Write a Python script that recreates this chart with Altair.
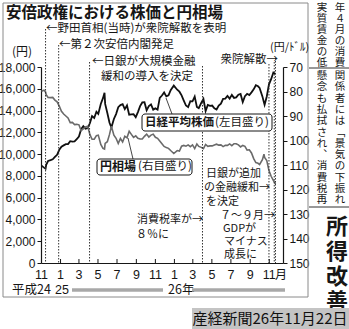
import altair as alt
import pandas as pd

# ---------------- data ----------------
dates = [
    "2012-11-01", "2012-11-09", "2012-11-14", "2012-11-16", "2012-11-22", "2012-11-30",
    "2012-12-07", "2012-12-14", "2012-12-21", "2012-12-28",
    "2013-01-04", "2013-01-11", "2013-01-18", "2013-01-25", "2013-02-01", "2013-02-08",
    "2013-02-15", "2013-02-22", "2013-03-01", "2013-03-08", "2013-03-15", "2013-03-22",
    "2013-03-29", "2013-04-05", "2013-04-12", "2013-04-19", "2013-04-26", "2013-05-02",
    "2013-05-10", "2013-05-17", "2013-05-22", "2013-05-24", "2013-05-31", "2013-06-07",
    "2013-06-13", "2013-06-21", "2013-06-28", "2013-07-05", "2013-07-12", "2013-07-19",
    "2013-07-26", "2013-08-02", "2013-08-09", "2013-08-16", "2013-08-23", "2013-08-30",
    "2013-09-06", "2013-09-13", "2013-09-20", "2013-09-27", "2013-10-04", "2013-10-11",
    "2013-10-18", "2013-10-25", "2013-11-01", "2013-11-08", "2013-11-15", "2013-11-22",
    "2013-11-29", "2013-12-06", "2013-12-13", "2013-12-20", "2013-12-30",
    "2014-01-10", "2014-01-17", "2014-01-24", "2014-01-31", "2014-02-07", "2014-02-14",
    "2014-02-21", "2014-02-28", "2014-03-07", "2014-03-14", "2014-03-20", "2014-03-28",
    "2014-04-04", "2014-04-11", "2014-04-18", "2014-04-25", "2014-05-02", "2014-05-09",
    "2014-05-16", "2014-05-23", "2014-05-30", "2014-06-06", "2014-06-13", "2014-06-20",
    "2014-06-27", "2014-07-04", "2014-07-11", "2014-07-18", "2014-07-25", "2014-08-01",
    "2014-08-08", "2014-08-15", "2014-08-22", "2014-08-29", "2014-09-05", "2014-09-12",
    "2014-09-19", "2014-09-26", "2014-10-01", "2014-10-10", "2014-10-15", "2014-10-17",
    "2014-10-24", "2014-10-31", "2014-11-07", "2014-11-14", "2014-11-21",
]
nikkei = [
    8946, 8757, 8665, 9024, 9366, 9446,
    9527, 9737, 9940, 10395,
    10688, 10801, 10913, 10926, 11191, 11153,
    11173, 11386, 11606, 12283, 12560, 12338,
    12397, 12833, 13485, 13316, 13884, 13694,
    14607, 15138, 15627, 14612, 13774, 12877,
    12445, 13230, 13677, 14309, 14506, 14589,
    14129, 14466, 13615, 13650, 13660, 13389,
    13860, 14404, 14742, 14760, 14024, 14404,
    14561, 14088, 14201, 14086, 15165, 15381,
    15661, 15299, 15403, 15870, 16291,
    15912, 15734, 15391, 14914, 14462, 14313,
    14865, 14841, 15274, 14327, 14224, 14696,
    15063, 13960, 14516, 14429, 14457, 14199,
    14097, 14462, 14632, 15077, 15097, 15349,
    15095, 15437, 15164, 15215, 15457, 15523,
    14778, 15318, 15539, 15424, 15668, 15948,
    16321, 16229, 16082, 15300, 14738, 14532,
    15291, 16413, 16880, 17490, 17357,
]
usdjpy = [
    79.9, 79.5, 80.2, 81.3, 82.4, 82.5,
    82.4, 83.5, 84.2, 86.0,
    88.1, 89.2, 90.0, 90.8, 92.7, 92.6,
    93.5, 93.4, 93.6, 96.0, 95.3, 94.5,
    94.2, 97.5, 99.5, 99.5, 98.0, 97.8,
    101.6, 103.2, 103.5, 101.2, 100.5, 97.5,
    94.2, 97.8, 99.1, 101.2, 99.2, 100.6,
    98.3, 98.9, 96.2, 97.5, 98.7, 98.1,
    99.1, 99.4, 99.4, 98.3, 97.4, 98.6,
    97.8, 97.4, 98.7, 99.1, 100.2, 101.3,
    102.4, 102.9, 103.2, 104.1, 105.3,
    104.1, 104.3, 102.3, 102.0, 102.3, 101.8,
    102.5, 101.8, 103.3, 101.4, 102.4, 102.8,
    103.3, 101.6, 102.4, 102.2, 102.2, 101.8,
    101.5, 101.9, 101.8, 102.5, 102.0, 102.0,
    101.4, 102.1, 101.3, 101.3, 101.8, 102.6,
    102.0, 102.4, 103.9, 103.8, 105.1, 107.4,
    109.0, 109.3, 109.8, 107.8, 105.6, 106.9,
    108.2, 112.3, 114.6, 116.3, 117.8,
]

left_ticks = [0, 2000, 4000, 6000, 8000, 10000, 12000, 14000, 16000, 18000]
right_ticks = [70, 80, 90, 100, 110, 120, 130, 140, 150]
month_tick_dates = ["2012-11-01", "2013-01-01", "2013-03-01", "2013-05-01", "2013-07-01",
                    "2013-09-01", "2013-11-01", "2014-01-01", "2014-03-01", "2014-05-01",
                    "2014-07-01", "2014-09-01", "2014-11-01"]
month_tick_labels = ["11", "1", "3", "5", "7", "9", "11", "1", "3", "5", "7", "9", "11"]
event_dates = ["2012-11-14", "2012-12-26", "2013-04-04", "2014-04-01",
               "2014-10-31", "2014-11-17", "2014-11-21"]

title_text = "安倍政権における株価と円相場"
caption_text = "産経新聞26年11月22日"
column_texts = ["年４月の消費", "実質賃金の低", "関係者には﹁景気の下振れ",
                "懸念も払拭され︑消費税再", "所得改善"]

# ---------------- layout ----------------
OX, OY = 41, 67          # plot origin in page pixels
W, H = 242, 196          # plot size
PAGE_W, PAGE_H = 349, 329
BASE = pd.Timestamp("2012-11-01")
JP = "Noto Sans CJK JP"
NUM = "Liberation Sans"
INK = "#161616"

def day(d):
    return (pd.Timestamp(d) - BASE).days

xscale = alt.Scale(domain=[-1.6, 774], nice=False, zero=False)

df = pd.DataFrame({"day": [day(d) for d in dates], "nikkei": nikkei, "usdjpy": usdjpy})
ticks_df = pd.DataFrame({"day": [day(d) for d in month_tick_dates], "label": month_tick_labels})


def txt(t, x, y, size=11.5, weight="normal", align="left", color=INK, font=JP,
        baseline="middle"):
    m = dict(align=align, baseline=baseline, fontSize=size, fontWeight=weight,
             font=font, color=color)
    return alt.Chart(alt.Data(values=[{"t": t}])).mark_text(**m).encode(
        text="t:N", x=alt.value(x - OX), y=alt.value(y - OY))


def vtxt(t, x, y0, pitch, size=11, weight="normal"):
    """vertical (tategaki) column: one glyph per mark"""
    return [txt(ch, x, y0 + i * pitch, size=size, weight=weight, align="center")
            for i, ch in enumerate(t)]


def seg(x1, y1, x2, y2, color=INK, width=1.0):
    return alt.Chart(alt.Data(values=[{}])).mark_rule(color=color, strokeWidth=width).encode(
        x=alt.value(x1 - OX), y=alt.value(y1 - OY),
        x2=alt.value(x2 - OX), y2=alt.value(y2 - OY))


def box(x1, y1, x2, y2, fill="white", stroke=INK, sw=1.0, radius=0, fill_opacity=1):
    return alt.Chart(alt.Data(values=[{}])).mark_rect(
        fill=fill, stroke=stroke, strokeWidth=sw, cornerRadius=radius,
        fillOpacity=fill_opacity).encode(
        x=alt.value(x1 - OX), y=alt.value(y1 - OY),
        x2=alt.value(x2 - OX), y2=alt.value(y2 - OY))


layers = []

# frame
layers.append(box(3, 3, 308, 297, fill="white", stroke="#8a8a8a", sw=1, fill_opacity=0))

# event dotted lines
event_tops = [29, 45, 62, 66, 64, 62, 58]
for d, top in zip(event_dates, event_tops):
    layers.append(
        alt.Chart(pd.DataFrame({"day": [day(d)]})).mark_rule(
            color="#333", strokeWidth=1, strokeDash=[1.5, 1.5]).encode(
            x=alt.X("day:Q", scale=xscale), y=alt.value(top - OY), y2=alt.value(H))
    )

# x ticks (pointing up into the plot) and labels
layers.append(
    alt.Chart(ticks_df).mark_rule(color=INK, strokeWidth=1).encode(
        x=alt.X("day:Q", scale=xscale), y=alt.value(H - 4), y2=alt.value(H))
)
layers.append(
    alt.Chart(ticks_df).mark_text(font=NUM, fontSize=12.5, color=INK, baseline="middle",
                                  align="center").encode(
        x=alt.X("day:Q", scale=xscale), y=alt.value(275 - OY), text="label:N")
)
layers.append(txt("月", 275, 275, size=12))

# lines
nik = alt.Chart(df).mark_line(color="#101010", strokeWidth=1.8).encode(
    x=alt.X("day:Q", scale=xscale,
            axis=alt.Axis(labels=False, ticks=False, grid=False, title=None,
                          domainColor=INK, domainWidth=1.2)),
    y=alt.Y("nikkei:Q", scale=alt.Scale(domain=[0, 18000], nice=False, zero=False),
            axis=alt.Axis(orient="left", values=left_ticks, title=None, grid=False,
                          tickSize=4, labelPadding=2, labelFontSize=12, labelFont=NUM,
                          labelColor=INK, tickColor=INK, domainColor=INK,
                          domainWidth=1.2, labelFlush=False, labelOverlap=False)),
)
yen = alt.Chart(df).mark_line(color="#6a6a6a", strokeWidth=1.6).encode(
    x=alt.X("day:Q", scale=xscale),
    y=alt.Y("usdjpy:Q", scale=alt.Scale(domain=[70, 150], reverse=True, nice=False, zero=False),
            axis=alt.Axis(orient="right", values=right_ticks, title=None, grid=False,
                          tickSize=4, labelPadding=2, labelFontSize=12, labelFont=NUM,
                          labelColor=INK, tickColor=INK, domainColor=INK,
                          domainWidth=1.2, labelFlush=False, labelOverlap=False)),
)

# title and axis units
layers.append(txt(title_text, 6, 13, size=15.5, weight="bold"))
layers.append(txt("(円)", 12, 52, size=12))
layers.append(txt("(円/ﾄﾞﾙ)", 270, 48, size=11))

# annotations
layers.append(txt("←野田首相(当時)が衆院解散を表明", 46, 29))
layers.append(txt("←第２次安倍内閣発足", 59, 45))
layers.append(txt("←日銀が大規模金融", 92, 62))
layers.append(txt("緩和の導入を決定", 101, 77))
layers.append(txt("衆院解散→", 278, 60, align="right"))
layers.append(txt("日銀が追加", 206, 174, size=11))
layers.append(txt("の金融緩和→", 270, 188, size=11, align="right"))
layers.append(txt("を決定", 206, 202, size=11))
layers.append(txt("消費税率が→", 203, 220, size=11, align="right"))
layers.append(txt("８％に", 136, 235, size=11))
layers.append(txt("７～９月→", 275, 216, size=11, align="right"))
layers.append(txt("GDPが", 223, 229, size=11))
layers.append(txt("マイナス", 224, 242, size=11))
layers.append(txt("成長に", 224, 255, size=11))

# boxed series labels with leaders
layers.append(seg(172, 114, 166, 98, width=0.8))
layers.append(box(142, 114, 272, 131, radius=3))
layers.append(txt("日経平均株価", 145, 122.5, size=11.5, weight="bold"))
layers.append(txt("(左目盛り)", 215, 122.5, size=11.5))
layers.append(seg(133, 159, 128, 138, width=0.8))
layers.append(box(97, 159, 192, 175, radius=3))
layers.append(txt("円相場", 100, 167, size=12, weight="bold"))
layers.append(txt("(右目盛り)", 138, 167, size=11.5))

# era row
layers.append(txt("平成24", 12, 290, size=12.5))
layers.append(txt("25", 55, 290, size=12.5, font=NUM))
layers.append(seg(72, 290, 163, 290, color="#a8a8a8", width=3.5))
layers.append(txt("26年", 168, 290, size=12.5))
layers.append(seg(192, 290, 285, 290, color="#a8a8a8", width=3.5))

# newspaper columns on the right
layers.append(seg(309, 68, 349, 68, color="#333", width=1))
layers.append(seg(309, 207, 349, 207, color="#333", width=1))
layers += vtxt(column_texts[0], 340, 8, 11, size=10.5)
layers += vtxt(column_texts[1], 322, 8, 11, size=10.5)
layers += vtxt(column_texts[2], 340, 76, 11.3, size=10.5)
layers += vtxt(column_texts[3], 322, 76, 11.3, size=10.5)
layers += vtxt(column_texts[4], 337, 227, 25, size=22, weight="bold")

# caption
layers.append(box(192, 308, 349, 329, fill="#c4c4c4", stroke="#c4c4c4", sw=0))
layers.append(txt(caption_text, 270, 318.5, size=15, align="center", color="#111"))

chart = alt.layer(nik, yen, *layers).resolve_scale(y="independent").properties(
    width=W, height=H,
    autosize=alt.AutoSizeParams(type="none"),
    padding={"left": OX, "top": OY, "right": PAGE_W - OX - W, "bottom": PAGE_H - OY - H},
    background="white",
).configure_view(stroke=None)

chart.save("out.html", embed_options={"renderer": "svg", "actions": False})
